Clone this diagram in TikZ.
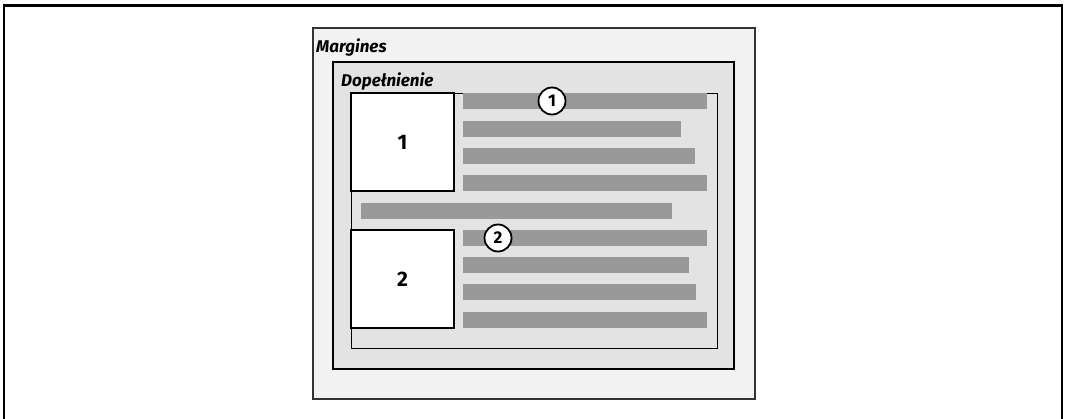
\documentclass[tikz,border=0pt]{standalone}
\usepackage{fontspec}
\setmainfont{Fira Sans}
\begin{document}
\begin{tikzpicture}[x=1pt,y=-1pt,
  marg/.style={draw=black!80,line width=1.4pt,fill=black!5},
  padd/.style={draw=black,line width=2.8pt,fill=black!11},
  cont/.style={draw=black,line width=0.9pt,fill=black!11},
  imgbox/.style={draw=black,line width=2pt,fill=white},
  bar/.style={fill=black!40},
  lbl/.style={font=\fontsize{17}{17}\selectfont\bfseries\itshape,inner sep=0pt,anchor=base west},
  num/.style={font=\fontsize{21}{21}\selectfont\bfseries,inner sep=0pt},
  callout/.style={circle,draw=black,line width=1.8pt,fill=white,minimum size=27pt,inner sep=0pt,font=\fontsize{17}{17}\selectfont\bfseries}
]
\useasboundingbox (0,0) rectangle (1065,418);
% outer frame (open at bottom)
\draw[line width=2.2pt] (4,420) -- (4,5.5) -- (1062,5.5) -- (1062,420);
% margins box
\draw[marg] (313,28) rectangle (755,399);
\node[lbl] (lm) at (316,52) {Margines};
% padding box
\draw[padd] (333,62) rectangle (734,369);
\node[lbl] (lp) at (341,86) {Dopełnienie};
% content box
\draw[cont] (351,93) rectangle (717,348);
% text bars
\fill[bar] (463,93) rectangle (707,109);
\fill[bar] (463,121) rectangle (681,137);
\fill[bar] (463,148) rectangle (695,164);
\fill[bar] (463,175) rectangle (707,191);
\fill[bar] (361,203) rectangle (672,219);
\fill[bar] (463,230) rectangle (707,246);
\fill[bar] (463,257) rectangle (689,273);
\fill[bar] (463,284) rectangle (696,300);
\fill[bar] (463,312) rectangle (707,328);
% floated boxes
\draw[imgbox] (351,93) rectangle (454,191);
\node[num] (n1) at (402.5,142) {1};
\draw[imgbox] (351,230) rectangle (454,328);
\node[num] (n2) at (402.5,279) {2};
% callouts
\node[callout] (c1) at (552,101) {1};
\node[callout] (c2) at (498,238) {2};
\end{tikzpicture}
\end{document}
